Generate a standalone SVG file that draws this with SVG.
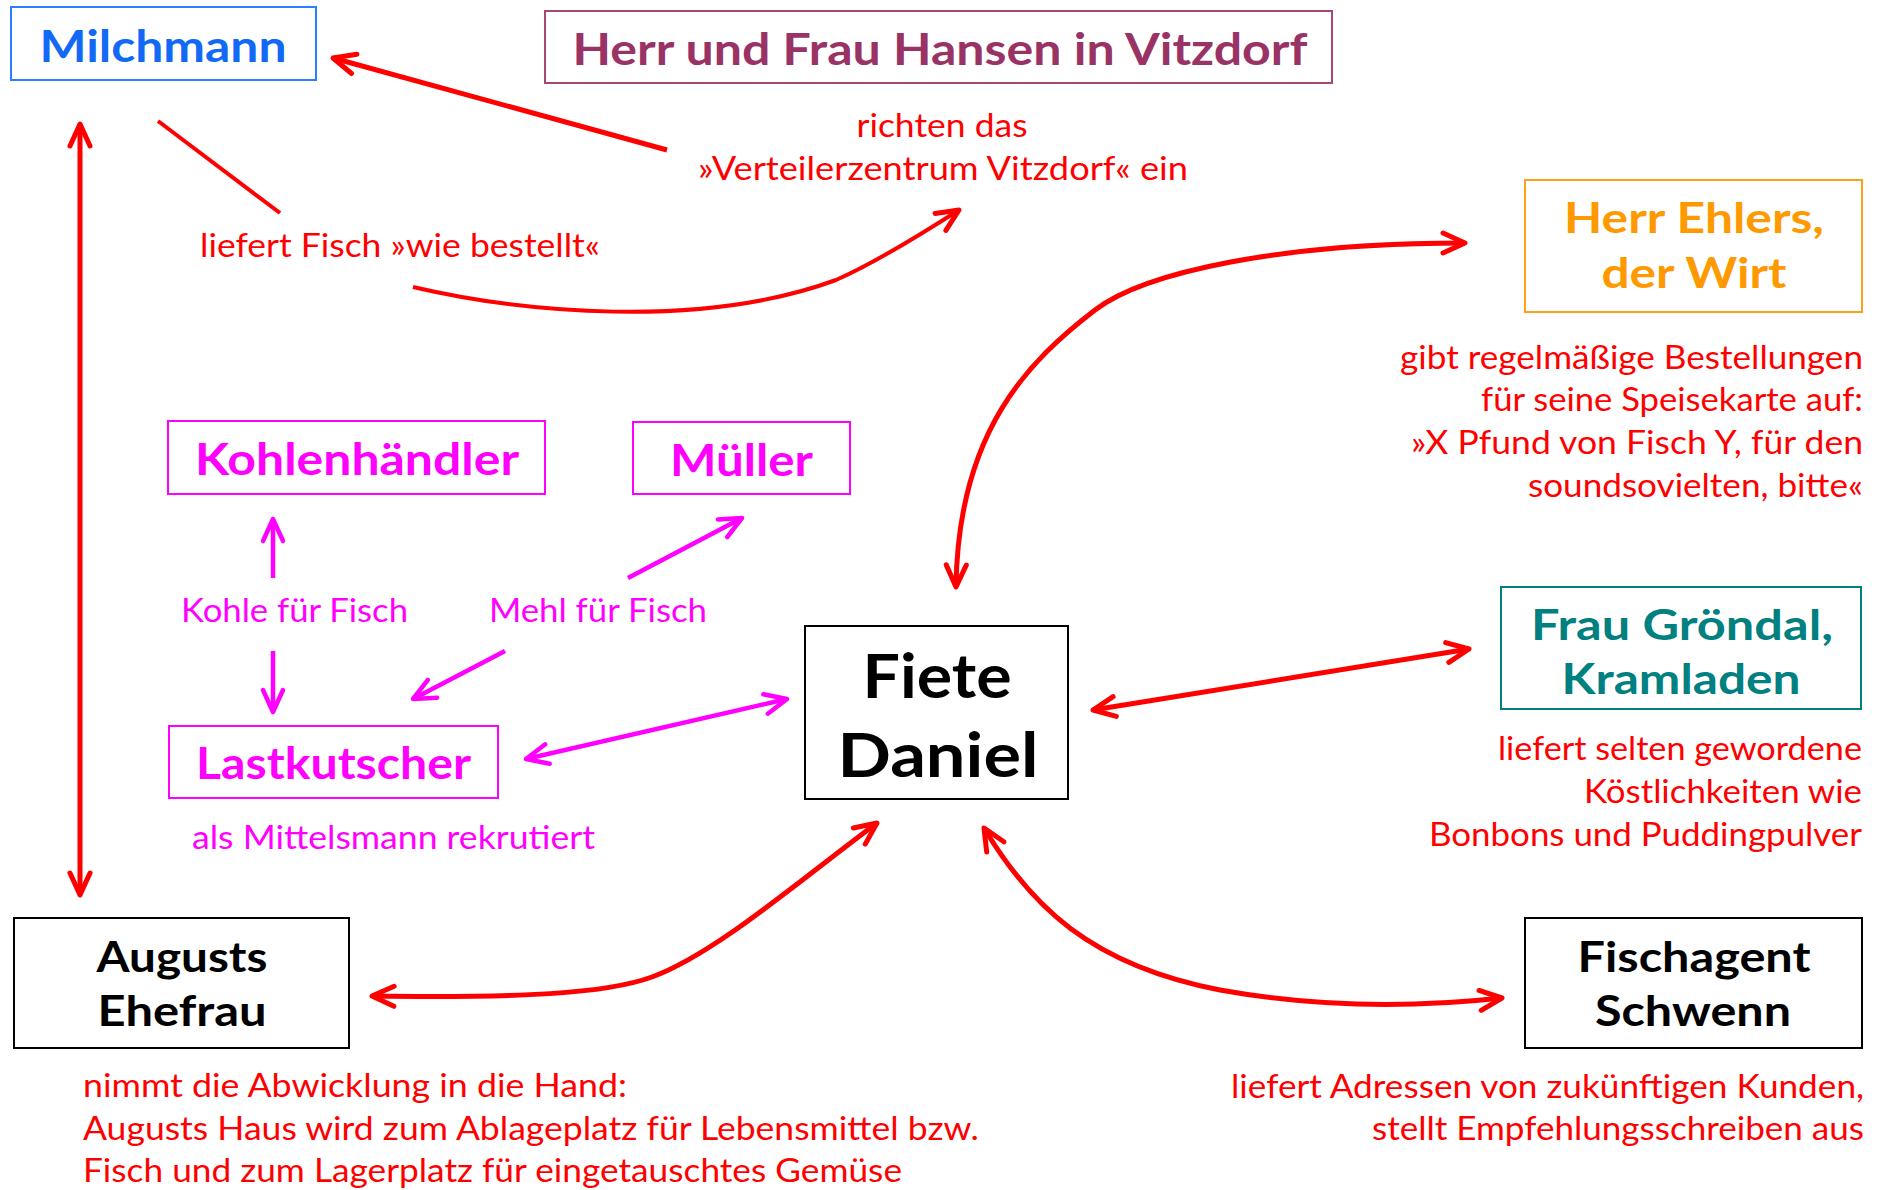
<svg xmlns="http://www.w3.org/2000/svg" width="1883" height="1190" viewBox="0 0 1883 1190">
<style>
text{font-family:Lato,"Open Sans","DejaVu Sans",sans-serif}
.t{font-weight:700;font-size:44px;text-anchor:middle}
.t2{font-weight:700;font-size:42px;text-anchor:middle}
.lr{font-size:32px;fill:#ff0000}
.lm{font-size:32px;fill:#ff00ff}
.box{fill:none;stroke-width:2}
.cr{fill:none;stroke:#ff0000;stroke-width:5}
.cm{fill:none;stroke:#ff00ff;stroke-width:4.5}
</style>
<defs>
<marker id="ar" viewBox="-28 -14 32 28" refX="0" refY="0" markerWidth="32" markerHeight="28" markerUnits="userSpaceOnUse" orient="auto-start-reverse"><path d="M-22,-10 L0,0 L-22,10" fill="none" stroke="#ff0000" stroke-width="5" stroke-linecap="round" stroke-linejoin="round"/></marker>
<marker id="am" viewBox="-28 -14 32 28" refX="0" refY="0" markerWidth="32" markerHeight="28" markerUnits="userSpaceOnUse" orient="auto-start-reverse"><path d="M-22,-10 L0,0 L-22,10" fill="none" stroke="#ff00ff" stroke-width="4.5" stroke-linecap="round" stroke-linejoin="round"/></marker>
</defs>
<rect width="1883" height="1190" fill="#ffffff"/>
<g id="connectors">
<path class="cr" d="M667,150 L333,58" marker-end="url(#ar)"/>
<path class="cr" style="stroke-width:4" d="M158,121 L280,213"/>
<path class="cr" style="stroke-width:4" d="M413,287 C520,312 700,330 836,280 C870,265 920,235 959,210" marker-end="url(#ar)"/>
<path class="cr" d="M80,124 L80,895" marker-start="url(#ar)" marker-end="url(#ar)"/>
<path class="cr" d="M956,587 C958,430 1030,360 1095,310 C1145,272 1280,243 1465,243" marker-start="url(#ar)" marker-end="url(#ar)"/>
<path class="cr" d="M1093,710 L1469,649" marker-start="url(#ar)" marker-end="url(#ar)"/>
<path class="cr" d="M372,996 C520,998 605,994 652,977 C715,954 800,880 877,823" marker-start="url(#ar)" marker-end="url(#ar)"/>
<path class="cr" d="M984,828 C1030,905 1090,965 1220,990 C1320,1008 1420,1007 1502,998" marker-start="url(#ar)" marker-end="url(#ar)"/>
<path class="cm" d="M273,578 L273,519" marker-end="url(#am)"/>
<path class="cm" d="M273,651 L273,712" marker-end="url(#am)"/>
<path class="cm" d="M628,578 L742,518" marker-end="url(#am)"/>
<path class="cm" d="M505,651 L413,699" marker-end="url(#am)"/>
<path class="cm" d="M526,759 L787,699" marker-start="url(#am)" marker-end="url(#am)"/>
</g>
<g id="milchmann">
<rect class="box" x="11" y="7" width="305" height="73" stroke="#2a7fff"/>
<text class="t" x="163" y="62" fill="#1169f5" textLength="247" lengthAdjust="spacingAndGlyphs">Milchmann</text>
</g>
<g id="hansen">
<rect class="box" x="545" y="11" width="787" height="72" stroke="#a54878"/>
<text class="t" x="940" y="65" fill="#993366" textLength="735" lengthAdjust="spacingAndGlyphs">Herr und Frau Hansen in Vitzdorf</text>
<text class="lr" x="942" y="137" text-anchor="middle" textLength="171" lengthAdjust="spacingAndGlyphs">richten das</text>
<text class="lr" x="943" y="180" text-anchor="middle" textLength="490" lengthAdjust="spacingAndGlyphs">»Verteilerzentrum Vitzdorf« ein</text>
</g>
<g id="label-milchmann">
<text class="lr" x="200" y="257" textLength="400" lengthAdjust="spacingAndGlyphs">liefert Fisch »wie bestellt«</text>
</g>
<g id="ehlers">
<rect class="box" x="1525" y="180" width="337" height="132" stroke="#ffa01a"/>
<text class="t2" x="1694" y="233" fill="#ff9900" textLength="260" lengthAdjust="spacingAndGlyphs">Herr Ehlers,</text>
<text class="t2" x="1694" y="288" fill="#ff9900" textLength="185" lengthAdjust="spacingAndGlyphs">der Wirt</text>
<text class="lr" x="1863" y="369" text-anchor="end" textLength="463" lengthAdjust="spacingAndGlyphs">gibt regelmäßige Bestellungen</text>
<text class="lr" x="1863" y="411" text-anchor="end" textLength="382" lengthAdjust="spacingAndGlyphs">für seine Speisekarte auf:</text>
<text class="lr" x="1863" y="454" text-anchor="end" textLength="452" lengthAdjust="spacingAndGlyphs">»X Pfund von Fisch Y, für den</text>
<text class="lr" x="1863" y="497" text-anchor="end" textLength="335" lengthAdjust="spacingAndGlyphs">soundsovielten, bitte«</text>
</g>
<g id="fiete">
<rect class="box" x="805" y="626" width="263" height="173" stroke="#000000"/>
<text class="t" style="font-size:61px" x="937" y="698" fill="#000000" textLength="149" lengthAdjust="spacingAndGlyphs">Fiete</text>
<text class="t" style="font-size:61px" x="938" y="777" fill="#000000" textLength="201" lengthAdjust="spacingAndGlyphs">Daniel</text>
</g>
<g id="groendal">
<rect class="box" x="1501" y="587" width="360" height="122" stroke="#008080"/>
<text class="t2" x="1682" y="640" fill="#008080" textLength="302" lengthAdjust="spacingAndGlyphs">Frau Gröndal,</text>
<text class="t2" x="1681" y="694" fill="#008080" textLength="239" lengthAdjust="spacingAndGlyphs">Kramladen</text>
<text class="lr" x="1862" y="760" text-anchor="end" textLength="364" lengthAdjust="spacingAndGlyphs">liefert selten gewordene</text>
<text class="lr" x="1862" y="803" text-anchor="end" textLength="278" lengthAdjust="spacingAndGlyphs">Köstlichkeiten wie</text>
<text class="lr" x="1862" y="846" text-anchor="end" textLength="433" lengthAdjust="spacingAndGlyphs">Bonbons und Puddingpulver</text>
</g>
<g id="fischagent">
<rect class="box" x="1525" y="918" width="337" height="130" stroke="#000000"/>
<text class="t2" x="1694" y="972" fill="#000000" textLength="233" lengthAdjust="spacingAndGlyphs">Fischagent</text>
<text class="t2" x="1693" y="1026" fill="#000000" textLength="196" lengthAdjust="spacingAndGlyphs">Schwenn</text>
<text class="lr" x="1864" y="1098" text-anchor="end" textLength="633" lengthAdjust="spacingAndGlyphs">liefert Adressen von zukünftigen Kunden,</text>
<text class="lr" x="1864" y="1140" text-anchor="end" textLength="492" lengthAdjust="spacingAndGlyphs">stellt Empfehlungsschreiben aus</text>
</g>
<g id="augusts">
<rect class="box" x="14" y="918" width="335" height="130" stroke="#000000"/>
<text class="t2" x="182" y="972" fill="#000000" textLength="171" lengthAdjust="spacingAndGlyphs">Augusts</text>
<text class="t2" x="182" y="1026" fill="#000000" textLength="169" lengthAdjust="spacingAndGlyphs">Ehefrau</text>
<text class="lr" x="83" y="1097" textLength="544" lengthAdjust="spacingAndGlyphs">nimmt die Abwicklung in die Hand:</text>
<text class="lr" x="83" y="1140" textLength="896" lengthAdjust="spacingAndGlyphs">Augusts Haus wird zum Ablageplatz für Lebensmittel bzw.</text>
<text class="lr" x="83" y="1182" textLength="819" lengthAdjust="spacingAndGlyphs">Fisch und zum Lagerplatz für eingetauschtes Gemüse</text>
</g>
<g id="kohlenhaendler">
<rect class="box" x="168" y="421" width="377" height="73" stroke="#ff00ff"/>
<text class="t" x="357" y="475" fill="#ff00ff" textLength="324" lengthAdjust="spacingAndGlyphs">Kohlenhändler</text>
</g>
<g id="mueller">
<rect class="box" x="633" y="422" width="217" height="72" stroke="#ff00ff"/>
<text class="t" x="741.5" y="476" fill="#ff00ff" textLength="143" lengthAdjust="spacingAndGlyphs">Müller</text>
</g>
<g id="lastkutscher">
<rect class="box" x="169" y="726" width="329" height="72" stroke="#ff00ff"/>
<text class="t" x="333.5" y="779" fill="#ff00ff" textLength="275" lengthAdjust="spacingAndGlyphs">Lastkutscher</text>
<text class="lm" x="192" y="849" textLength="403" lengthAdjust="spacingAndGlyphs">als Mittelsmann rekrutiert</text>
</g>
<g id="labels-magenta">
<text class="lm" x="181" y="622" textLength="227" lengthAdjust="spacingAndGlyphs">Kohle für Fisch</text>
<text class="lm" x="489" y="622" textLength="218" lengthAdjust="spacingAndGlyphs">Mehl für Fisch</text>
</g>
</svg>
